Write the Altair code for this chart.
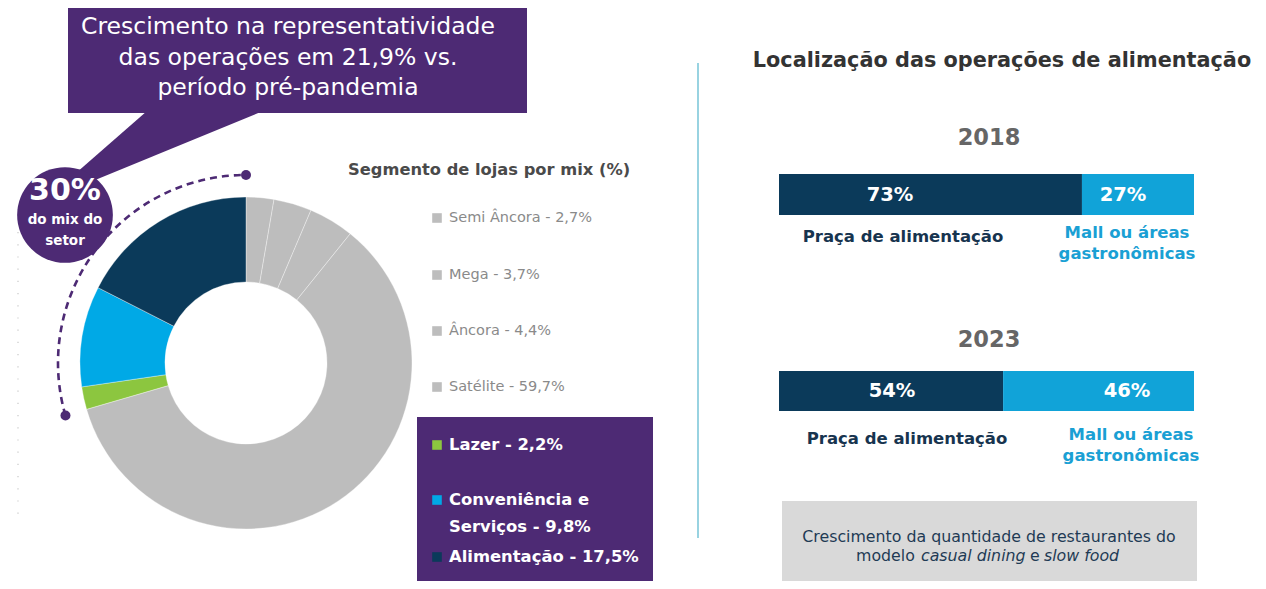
import math
import altair as alt
import pandas as pd

# ---------------- data ----------------
mix_segments = ["Semi Âncora", "Mega", "Âncora", "Satélite", "Lazer",
                "Conveniência e Serviços", "Alimentação"]
mix_pct = [2.7, 3.7, 4.4, 59.7, 2.2, 9.8, 17.5]
highlight_segments = ["Lazer", "Conveniência e Serviços", "Alimentação"]
callout_share = "30%"
callout_lines = ["Crescimento na representatividade",
                 "das operações em 21,9% vs.",
                 "período pré-pandemia"]

years = ["2018", "2023"]
praca_pct = [73, 54]
mall_pct = [27, 46]
praca_label = "Praça de alimentação"
mall_label = ["Mall ou áreas", "gastronômicas"]

# ---------------- style ----------------
FONT = "DejaVu Sans"
PURPLE = "#4d2a74"
NAVY = "#0b3a5a"
CYAN = "#00a9e6"
BAR_BLUE = "#11a3d8"
GREEN = "#8cc63f"
GRAY = "#bdbdbd"
mix_colors = [GRAY, GRAY, GRAY, GRAY, GREEN, CYAN, NAVY]

W, H = 1250, 573
M = 8


def px(v):
    return v - M


def fmt(v):
    return f"{v:.1f}".replace(".", ",") + "%"


def text_layer(rows, **kw):
    df = pd.DataFrame(rows, columns=["x", "y", "t"])
    base = dict(font=FONT, align="center", baseline="middle")
    base.update(kw)
    return alt.Chart(df).mark_text(**base).encode(
        x=alt.X("x:Q", scale=None),
        y=alt.Y("y:Q", scale=None),
        text="t:N",
    )


def rect(x0, x1, y0, y1, color, **kw):
    return alt.Chart(pd.DataFrame({"k": [0]})).mark_rect(color=color, **kw).encode(
        x=alt.value(px(x0)), x2=alt.value(px(x1)),
        y=alt.value(px(y0)), y2=alt.value(px(y1)),
    )


# ---------------- donut ----------------
CX, CY = 246, 363
R_OUT, R_IN, R_DASH = 166, 81, 188
theta_scale = alt.Scale(domain=[0, 100])

mix_df = pd.DataFrame({"segment": mix_segments, "pct": mix_pct,
                       "ord": list(range(len(mix_segments)))})
donut = alt.Chart(mix_df).mark_arc(
    radius=R_OUT, radius2=R_IN, stroke="white", strokeWidth=0.7, strokeOpacity=0.5
).encode(
    theta=alt.Theta("pct:Q", stack=True, scale=theta_scale),
    order=alt.Order("ord:Q"),
    color=alt.Color("segment:N", scale=alt.Scale(domain=mix_segments, range=mix_colors), legend=None),
    x=alt.value(px(CX)), y=alt.value(px(CY)),
)

hl_total = sum(p for s, p in zip(mix_segments, mix_pct) if s in highlight_segments)
arc_df = pd.DataFrame({"a0": [100 - hl_total], "a1": [100.0]})
arc_len = R_DASH * 2 * math.pi * hl_total / 100
n_dash = int(arc_len // 12)
dash_pattern = [7, 5] * n_dash + [0.5, 2000]
dashed = alt.Chart(arc_df).mark_arc(
    radius=R_DASH, radius2=R_DASH - 0.05, fillOpacity=0, stroke=PURPLE,
    strokeWidth=2.6, strokeDash=dash_pattern
).encode(
    theta=alt.Theta("a0:Q", stack=False, scale=theta_scale),
    theta2="a1:Q",
    x=alt.value(px(CX)), y=alt.value(px(CY)),
)

ang_end = 2 * math.pi * (100 - hl_total) / 100
dots_df = pd.DataFrame({
    "x": [px(CX), px(CX + R_DASH * math.sin(ang_end))],
    "y": [px(CY - R_DASH), px(CY - R_DASH * math.cos(ang_end))],
})
dots = alt.Chart(dots_df).mark_point(filled=True, opacity=1, color=PURPLE, size=100).encode(
    x=alt.X("x:Q", scale=None), y=alt.Y("y:Q", scale=None))

dotted_guide = alt.Chart(pd.DataFrame({"k": [0]})).mark_rule(
    color="#c8c8c8", strokeWidth=1.2, strokeDash=[1.2, 11]
).encode(x=alt.value(px(18)), y=alt.value(px(232)), y2=alt.value(px(522)))

# ---------------- callout ----------------
callout_box = rect(68, 527, 8, 113, PURPLE)
tri_path = "M{},{} L{},{} L{},{} Z".format(px(147), px(111), px(263), px(111), px(44), px(201))
callout_tri = alt.Chart(pd.DataFrame({"k": [0]})).mark_point(
    shape=tri_path, size=4, filled=True, opacity=1, color=PURPLE, strokeWidth=0
).encode(x=alt.value(0), y=alt.value(0))
circle_r = 54
callout_circle = alt.Chart(pd.DataFrame({"k": [0]})).mark_point(
    shape="circle", size=math.pi * circle_r ** 2, filled=True, opacity=1, color=PURPLE
).encode(x=alt.value(px(65)), y=alt.value(px(215)))

callout_text = text_layer(
    [(px(288), px(27 + 30.5 * i), t) for i, t in enumerate(callout_lines)],
    fontSize=23.5, color="white")
circle_big = text_layer([(px(65), px(191), callout_share)],
                        fontSize=30, fontWeight="bold", color="white")
circle_small = text_layer([(px(65), px(220), "do mix do"), (px(65), px(241), "setor")],
                          fontSize=13.5, fontWeight="bold", color="white")

# ---------------- legend ----------------
legend_title = text_layer([(px(348), px(170), "Segmento de lojas por mix (%)")],
                          align="left", fontSize=16.3, fontWeight="bold", color="#4a4a4a")

gray_rows, gray_sq = [], []
gray_y = [218, 275, 331, 387]
for (s, p), yy in zip([(s, p) for s, p in zip(mix_segments, mix_pct) if s not in highlight_segments], gray_y):
    gray_rows.append((px(449), px(yy), f"{s} - {fmt(p)}"))
    gray_sq.append({"x": px(437), "y": px(yy), "c": s})
gray_text = text_layer(gray_rows, align="left", fontSize=14.5, color="#8a8a8a")

legend_box = rect(417, 653, 417, 600, PURPLE)
hl_rows, hl_sq = [], []
hl_pos = {"Lazer": [445], "Conveniência e Serviços": [500, 527], "Alimentação": [557]}
for s in highlight_segments:
    p = mix_pct[mix_segments.index(s)]
    label = f"{s} - {fmt(p)}"
    ys = hl_pos[s]
    parts = [label] if len(ys) == 1 else label.replace("e Serviços", "e|Serviços").split("|")
    for part, yy in zip(parts, ys):
        hl_rows.append((px(449), px(yy), part))
    hl_sq.append({"x": px(437), "y": px(ys[0]), "c": s})
hl_text = text_layer(hl_rows, align="left", fontSize=16.4, fontWeight="bold", color="white")

sq_df = pd.DataFrame(gray_sq + hl_sq)
squares = alt.Chart(sq_df).mark_point(shape="square", filled=True, opacity=1, size=92).encode(
    x=alt.X("x:Q", scale=None), y=alt.Y("y:Q", scale=None),
    color=alt.Color("c:N", scale=alt.Scale(domain=mix_segments, range=mix_colors), legend=None),
)

# ---------------- right panel ----------------
divider = alt.Chart(pd.DataFrame({"k": [0]})).mark_rule(color="#7fc8da", strokeWidth=1.6).encode(
    x=alt.value(px(698)), y=alt.value(px(63)), y2=alt.value(px(538)))

right_title = text_layer([(px(1002), px(61), "Localização das operações de alimentação")],
                         fontSize=20.8, fontWeight="bold", color="#333333")

bar_rows = []
for yr, a, b in zip(years, praca_pct, mall_pct):
    bar_rows.append({"year": yr, "seg": "praca", "start": 0, "end": a})
    bar_rows.append({"year": yr, "seg": "mall", "start": a, "end": a + b})
bar_df = pd.DataFrame(bar_rows)
bar_x = alt.Scale(domain=[0, 100], range=[px(779), px(1194)])
bar_color = alt.Scale(domain=["praca", "mall"], range=[NAVY, BAR_BLUE])

bar_y = {"2018": (174, 215), "2023": (371, 411)}
bars = []
for yr in years:
    y0, y1 = bar_y[yr]
    bars.append(
        alt.Chart(bar_df).transform_filter(alt.datum.year == yr).mark_rect().encode(
            x=alt.X("start:Q", scale=bar_x, axis=None), x2="end:Q",
            y=alt.value(px(y0)), y2=alt.value(px(y1)),
            color=alt.Color("seg:N", scale=bar_color, legend=None),
        )
    )

year_text = text_layer([(px(989), px(138), years[0]), (px(989), px(340), years[1])],
                       fontSize=22.5, fontWeight="bold", color="#666666")
pct_text = text_layer([
    (px(890), px(195), f"{praca_pct[0]}%"), (px(1123), px(195), f"{mall_pct[0]}%"),
    (px(892), px(391), f"{praca_pct[1]}%"), (px(1127), px(391), f"{mall_pct[1]}%"),
], fontSize=19.5, fontWeight="bold", color="white")
praca_text = text_layer([(px(903), px(237), praca_label), (px(907), px(439), praca_label)],
                        fontSize=16.5, fontWeight="bold", color="#17344f")
mall_text = text_layer([
    (px(1127), px(233), mall_label[0]), (px(1127), px(254), mall_label[1]),
    (px(1131), px(435), mall_label[0]), (px(1131), px(456), mall_label[1]),
], fontSize=16.5, fontWeight="bold", color="#1aa0d4")

note_box = rect(782, 1197, 501, 600, "#d9d9d9")
note_line1 = text_layer([(px(989), px(537), "Crescimento da quantidade de restaurantes do")],
                        fontSize=15.8, color="#1f3b55")
note_plain = text_layer([(px(856), px(556), "modelo"), (px(1030), px(556), "e")],
                        align="left", fontSize=15.8, color="#1f3b55")
note_ital = text_layer([(px(921), px(556), "casual dining"), (px(1044), px(556), "slow food")],
                       align="left", fontSize=15.8, fontStyle="italic", color="#1f3b55")

chart = alt.layer(
    dotted_guide, donut, dashed, dots,
    callout_tri, callout_box, callout_circle, callout_text, circle_big, circle_small,
    legend_title, gray_text, legend_box, hl_text, squares,
    divider, right_title, *bars, year_text, pct_text, praca_text, mall_text,
    note_box, note_line1, note_plain, note_ital,
).resolve_scale(x="independent", y="independent", color="independent").properties(
    width=W, height=H, autosize=alt.AutoSizeParams(type="none"), padding=0,
    background="white",
).configure_view(stroke=None)

chart.save("out.html", embed_options={"renderer": "svg", "actions": False})
